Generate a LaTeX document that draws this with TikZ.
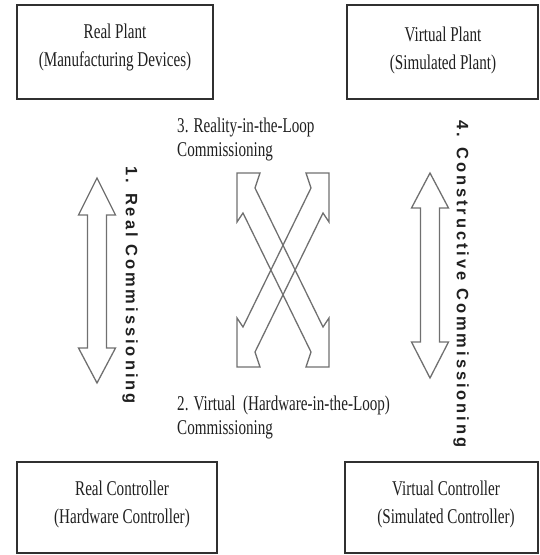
\documentclass[tikz,border=0pt]{standalone}
\usepackage{fontspec}
\setmainfont{Liberation Serif}[FakeStretch=0.72]
\newfontfamily\vfont{Liberation Sans}[LetterSpace=18]
\definecolor{boxc}{HTML}{303030}
\definecolor{arrc}{HTML}{707070}
\definecolor{txtc}{HTML}{202020}
\begin{document}
\begin{tikzpicture}[x=1pt,y=-1pt,
  box/.style={draw=boxc, line width=2pt, fill=white, inner sep=0pt},
  boxtext/.style={align=center, text=txtc, font=\fontsize{21}{28}\selectfont, inner sep=0pt},
  lbl/.style={align=left, anchor=west, text=txtc, font=\fontsize{21}{24}\selectfont, inner sep=0pt},
  vlbl/.style={rotate=-90, text=txtc, font=\vfont\bfseries\fontsize{16.5}{20}\selectfont, inner sep=0pt},
  arr/.style={draw=arrc, line width=1.3pt, line join=miter}]
\useasboundingbox (0,0) rectangle (539,555);
% boxes
\node[box, minimum width=196pt, minimum height=94pt] (rp) at (115,52) {};
\node[box, minimum width=191pt, minimum height=94pt] (vp) at (442.5,52) {};
\node[box, minimum width=200pt, minimum height=91pt] (rc) at (117,507.5) {};
\node[box, minimum width=193pt, minimum height=91pt] (vc) at (441.5,507.5) {};
\node[boxtext] (rpt) at (115,47) {Real Plant\\(Manufacturing Devices)};
\node[boxtext] (vpt) at (443,50) {Virtual Plant\\(Simulated Plant)};
\node[boxtext] (rct) at (122,504.5) {Real Controller\\(Hardware Controller)};
\node[boxtext] (vct) at (446,504.5) {Virtual Controller\\(Simulated Controller)};
% labels
\node[lbl] (l3) at (177,139) {3. Reality-in-the-Loop\\Commissioning};
\node[lbl] (l2) at (177,417) {2. Virtual\ \ (Hardware-in-the-Loop)\\Commissioning};
\node[vlbl] (l1) at (130,285) {1. Real Commissioning};
\node[vlbl] (l4) at (461,284) {4. Constructive Commissioning};
% vertical double arrows
\draw[arr] (97,178) -- (115.5,215) -- (106.5,215) -- (106.5,348) -- (115.5,348) -- (97,383)
  -- (78.5,348) -- (87.5,348) -- (87.5,215) -- (78.5,215) -- cycle;
\draw[arr] (430,173) -- (448.5,208) -- (439.5,208) -- (439.5,342) -- (448.5,342) -- (430,378)
  -- (411.5,342) -- (420.5,342) -- (420.5,208) -- (411.5,208) -- cycle;
% crossing double arrows
\draw[arr] (237,173) -- (260,173) -- (255,188) -- (323,327) -- (329,318) -- (329,367)
  -- (306,367) -- (311,352) -- (243,213) -- (237,222) -- cycle;
\draw[arr] (329,173) -- (306,173) -- (311,188) -- (243,327) -- (237,318) -- (237,367)
  -- (260,367) -- (255,352) -- (323,213) -- (329,222) -- cycle;
\end{tikzpicture}
\end{document}
